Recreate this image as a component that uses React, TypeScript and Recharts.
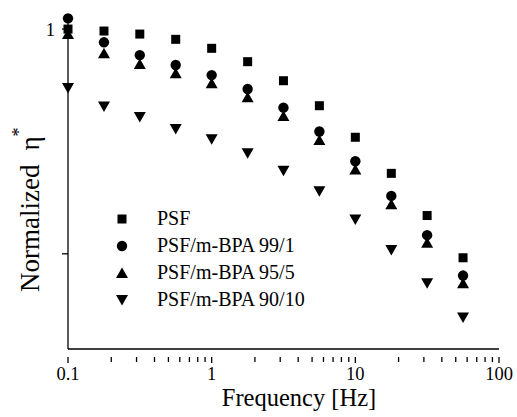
import { ScatterChart, Scatter, XAxis, YAxis } from 'recharts';

// frequency in Hz, 4 points per decade
const freq = [0.1, 0.178, 0.316, 0.562, 1, 1.78, 3.16, 5.62, 10, 17.8, 31.6, 56.2];

const psf = [1.0, 0.98, 0.95, 0.9, 0.821, 0.716, 0.589, 0.456, 0.33, 0.228, 0.148, 0.096];
const bpa991 = [1.116, 0.873, 0.766, 0.692, 0.624, 0.541, 0.447, 0.35, 0.258, 0.181, 0.121, 0.08];
const bpa955 = [0.95, 0.78, 0.699, 0.636, 0.574, 0.497, 0.41, 0.321, 0.237, 0.166, 0.112, 0.074];
const bpa9010 = [0.547, 0.452, 0.406, 0.359, 0.323, 0.28, 0.234, 0.19, 0.142, 0.104, 0.074, 0.052];

const xTicks = [
  0.1, 0.2, 0.3, 0.4, 0.5, 0.6, 0.7, 0.8, 0.9,
  1, 2, 3, 4, 5, 6, 7, 8, 9,
  10, 20, 30, 40, 50, 60, 70, 80, 90, 100,
];
const xMajor = [0.1, 1, 10, 100];
const yTicks = [0.1, 1];

const FONT = '"Liberation Serif", "Times New Roman", serif';

type Kind = 'square' | 'circle' | 'up' | 'down';

function marker(kind: Kind, cx: number, cy: number) {
  if (kind === 'square') return <rect x={cx - 4.5} y={cy - 4.5} width={9} height={9} fill="#000" />;
  if (kind === 'circle') return <circle cx={cx} cy={cy} r={5.2} fill="#000" />;
  if (kind === 'up') return <path d={`M${cx},${cy - 5.5}L${cx + 6},${cy + 5}L${cx - 6},${cy + 5}Z`} fill="#000" />;
  return <path d={`M${cx},${cy + 5.5}L${cx + 6},${cy - 5}L${cx - 6},${cy - 5}Z`} fill="#000" />;
}

const series: { name: string; kind: Kind; values: number[] }[] = [
  { name: 'PSF', kind: 'square', values: psf },
  { name: 'PSF/m-BPA 99/1', kind: 'circle', values: bpa991 },
  { name: 'PSF/m-BPA 95/5', kind: 'up', values: bpa955 },
  { name: 'PSF/m-BPA 90/10', kind: 'down', values: bpa9010 },
];

function XTick(props: any) {
  const { x, y, payload } = props;
  const major = xMajor.includes(payload.value);
  return (
    <g>
      <line x1={x} x2={x} y1={y} y2={y + (major ? 6 : 5)} stroke="#000" strokeWidth={1.3} />
      {major && (
        <text x={x} y={y + 23} textAnchor="middle" fontSize={18.5} fontFamily={FONT} fill="#000">
          {payload.value}
        </text>
      )}
    </g>
  );
}

function LegendBox() {
  return (
    <div style={{ position: 'absolute', left: 110, top: 205, fontFamily: FONT, fontSize: 20, color: '#000' }}>
      {series.map(s => (
        <div key={s.name} style={{ display: 'flex', alignItems: 'center', height: 27 }}>
          <svg width={24} height={16} style={{ marginRight: 23 }}>
            {marker(s.kind, 12, 8)}
          </svg>
          <span>{s.name}</span>
        </div>
      ))}
    </div>
  );
}

function YTitle() {
  return (
    <text x={30} y={292} transform="rotate(-90, 30, 292)" textAnchor="start" dominantBaseline="central"
      fontSize={27} fontFamily={FONT} fill="#000">
      Normalized<tspan dx={14}>η</tspan><tspan dy={-11} fontSize={18}>*</tspan>
    </text>
  );
}

function XTitle() {
  return (
    <text x={299} y={406} textAnchor="middle" fontSize={24.5} fontFamily={FONT} fill="#000">
      Frequency [Hz]
    </text>
  );
}

export default function App() {
  return (
    <div style={{ position: 'absolute', left: 0, top: 0, width: 517, height: 417, background: '#fff' }}>
      <ScatterChart width={517} height={417} margin={{ top: 18, right: 18, bottom: 0, left: 0 }}>
        <XAxis
          type="number"
          dataKey="f"
          scale="log"
          domain={[0.1, 100]}
          ticks={xTicks}
          interval={0}
          tick={<XTick />}
          tickLine={false}
          axisLine={{ stroke: '#000', strokeWidth: 1.3 }}
          height={68}
          label={<XTitle />}
        />
        <YAxis
          type="number"
          dataKey="v"
          scale="log"
          domain={[0.0377, 1.12]}
          ticks={yTicks}
          interval={0}
          width={68}
          tickSize={6}
          tickFormatter={(v: number) => (v === 1 ? '1' : '')}
          tick={{ fontSize: 18.5, fontFamily: FONT, fill: '#000', dx: -5 }}
          tickLine={{ stroke: '#000', strokeWidth: 1.3 }}
          axisLine={{ stroke: '#000', strokeWidth: 1.3 }}
          label={<YTitle />}
        />
        {series.map(s => (
          <Scatter
            key={s.name}
            name={s.name}
            data={freq.map((f, i) => ({ f, v: s.values[i] }))}
            isAnimationActive={false}
            shape={(p: any) => marker(s.kind, p.cx, p.cy)}
          />
        ))}
      </ScatterChart>
      <LegendBox />
    </div>
  );
}
